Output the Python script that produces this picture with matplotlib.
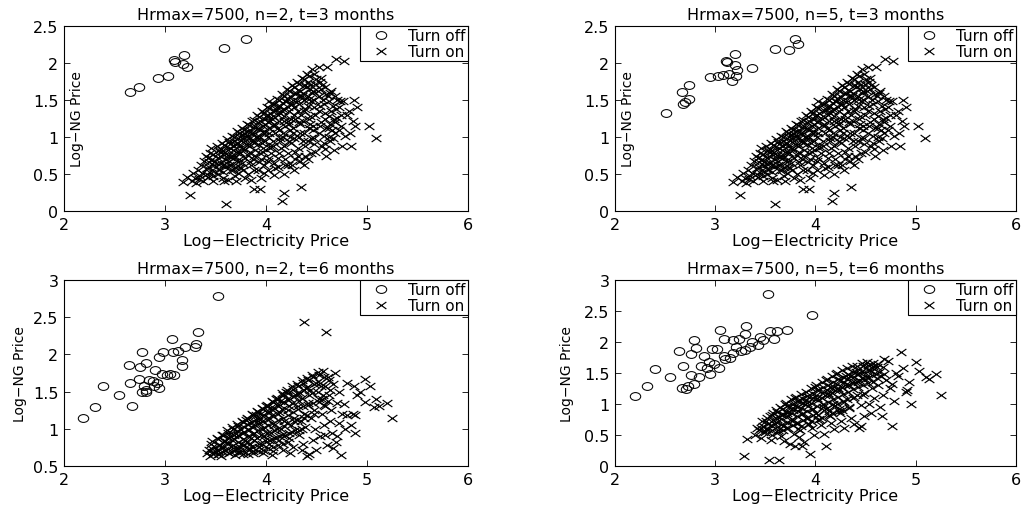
import numpy as np
import matplotlib
matplotlib.use('Agg')
import matplotlib.pyplot as plt
from matplotlib.path import Path
from matplotlib.transforms import Affine2D
from matplotlib.ticker import FormatStrFormatter, MultipleLocator

plt.rcParams['font.family'] = ['DejaVu Sans']

# ---- data (log-electricity price, log-NG price) ----

# turn-off points, n=2, t=3 months
off_n2_t3 = [(2.65, 1.61), (2.74, 1.68), (2.93, 1.80), (3.03, 1.83), (3.09, 2.04),
             (3.10, 2.01), (3.19, 2.11), (3.18, 1.99), (3.22, 1.95), (3.58, 2.20),
             (3.80, 2.32)]

# turn-off points, n=5, t=3 months
off_n5_t3 = [(2.51, 1.32), (2.67, 1.61), (2.74, 1.70), (2.68, 1.44), (2.70, 1.47),
             (2.74, 1.51), (2.95, 1.81), (3.03, 1.83), (3.08, 1.84), (3.11, 2.03),
             (3.12, 2.01), (3.14, 1.85), (3.17, 1.76), (3.20, 2.12), (3.20, 1.97),
             (3.22, 1.90), (3.21, 1.83), (3.37, 1.93), (3.60, 2.19), (3.74, 2.17),
             (3.80, 2.32), (3.83, 2.26)]

# turn-on points, t=3 months (same cloud in both upper panels)
on_t3 = [(3.18, 0.39), (3.22, 0.46), (3.25, 0.22), (3.27, 0.41), (3.28, 0.52), (3.30, 0.44),
         (3.31, 0.38), (3.33, 0.55), (3.35, 0.47), (3.36, 0.62), (3.38, 0.40), (3.39, 0.68),
         (3.37, 0.52), (3.34, 0.43), (3.41, 0.74), (3.42, 0.58), (3.43, 0.46), (3.44, 0.66),
         (3.45, 0.78), (3.46, 0.52), (3.47, 0.70), (3.48, 0.41), (3.49, 0.62), (3.46, 0.85),
         (3.51, 0.88), (3.52, 0.72), (3.53, 0.55), (3.54, 0.80), (3.55, 0.65), (3.56, 0.92),
         (3.57, 0.45), (3.58, 0.76), (3.59, 0.60), (3.55, 0.84), (3.52, 0.50), (3.60, 0.09),
         (3.61, 0.97), (3.62, 0.82), (3.63, 0.68), (3.64, 0.90), (3.65, 0.55), (3.66, 1.01),
         (3.67, 0.75), (3.68, 0.88), (3.69, 0.47), (3.65, 0.62), (3.62, 0.42), (3.68, 0.95),
         (3.70, 0.80), (3.71, 1.08), (3.72, 0.92), (3.73, 0.70), (3.74, 1.00), (3.75, 0.58),
         (3.76, 1.12), (3.77, 0.85), (3.78, 0.98), (3.79, 0.45), (3.74, 0.78), (3.76, 0.65),
         (3.78, 1.05), (3.72, 0.52), (3.80, 0.90), (3.81, 1.18), (3.82, 1.02), (3.83, 0.88),
         (3.84, 1.10), (3.85, 0.62), (3.86, 1.22), (3.87, 0.95), (3.88, 0.75), (3.89, 1.15),
         (3.82, 0.50), (3.84, 0.80), (3.86, 1.05), (3.88, 0.30), (3.85, 0.42), (3.90, 1.00),
         (3.91, 1.30), (3.92, 1.12), (3.93, 0.98), (3.94, 1.22), (3.95, 0.70), (3.96, 1.35),
         (3.97, 0.85), (3.98, 1.05), (3.99, 1.18), (3.92, 0.55), (3.94, 0.30), (3.95, 0.45),
         (3.96, 0.92), (3.98, 0.62), (4.00, 1.28), (4.01, 1.40), (4.02, 1.20), (4.03, 1.05),
         (4.04, 1.32), (4.05, 0.78), (4.06, 1.45), (4.07, 0.95), (4.08, 1.15), (4.09, 0.58),
         (4.02, 0.68), (4.04, 0.88), (4.06, 1.25), (4.08, 0.48), (4.10, 1.38), (4.03, 1.48),
         (4.11, 1.52), (4.12, 1.30), (4.13, 1.10), (4.14, 1.42), (4.15, 0.85), (4.16, 1.58),
         (4.17, 1.00), (4.18, 1.22), (4.19, 0.62), (4.12, 0.72), (4.14, 0.95), (4.16, 1.35),
         (4.18, 0.50), (4.16, 0.13), (4.18, 0.24), (4.20, 1.48), (4.21, 1.65), (4.22, 1.40),
         (4.23, 1.18), (4.24, 1.55), (4.25, 0.92), (4.26, 1.70), (4.27, 1.05), (4.28, 1.30),
         (4.29, 0.70), (4.22, 0.78), (4.24, 1.00), (4.26, 1.45), (4.28, 0.55), (4.30, 1.60),
         (4.25, 1.25), (4.31, 1.75), (4.32, 1.48), (4.33, 1.20), (4.34, 1.62), (4.35, 0.32),
         (4.36, 1.80), (4.37, 0.95), (4.38, 1.35), (4.39, 0.75), (4.32, 0.85), (4.34, 1.05),
         (4.36, 1.55), (4.38, 0.62), (4.40, 1.68), (4.35, 1.30), (4.41, 1.85), (4.42, 1.55),
         (4.43, 1.25), (4.44, 1.70), (4.45, 0.98), (4.46, 1.92), (4.47, 1.10), (4.48, 1.40),
         (4.49, 0.80), (4.42, 0.70), (4.44, 1.18), (4.46, 1.60), (4.48, 0.90), (4.50, 1.78),
         (4.45, 1.48), (4.51, 1.62), (4.52, 1.35), (4.53, 1.15), (4.54, 1.80), (4.55, 0.88),
         (4.56, 1.50), (4.57, 1.02), (4.58, 1.25), (4.59, 0.74), (4.55, 1.70), (4.60, 1.95),
         (4.52, 1.95), (4.61, 1.55), (4.62, 1.28), (4.63, 0.95), (4.64, 1.62), (4.65, 1.10),
         (4.66, 1.42), (4.67, 0.82), (4.68, 1.20), (4.69, 2.05), (4.70, 1.50), (4.72, 1.40),
         (4.74, 1.15), (4.75, 0.88), (4.76, 1.48), (4.77, 2.03), (4.78, 1.02), (4.80, 1.30),
         (4.82, 1.35), (4.84, 0.88), (4.86, 1.22), (4.87, 1.50), (4.88, 1.15), (4.90, 1.40),
         (5.02, 1.15), (5.09, 0.99), (4.34, 0.68), (4.45, 0.78), (4.58, 0.84), (4.66, 0.98),
         (4.26, 0.62), (4.70, 1.26), (4.83, 1.05), (4.62, 1.12), (3.70, 0.40), (3.58, 0.40)]

# the dark band just under the upper edge of the t=3 cloud
on_t3_core = [(3.43, 0.71), (3.44, 0.60), (3.42, 0.50), (3.48, 0.77), (3.49, 0.66), (3.47, 0.56),
              (3.48, 0.47), (3.53, 0.82), (3.54, 0.74), (3.52, 0.63), (3.53, 0.57), (3.58, 0.89),
              (3.57, 0.81), (3.59, 0.70), (3.58, 0.64), (3.57, 0.53), (3.63, 0.93), (3.64, 0.85),
              (3.62, 0.76), (3.63, 0.62), (3.64, 0.73), (3.68, 1.00), (3.69, 0.91), (3.67, 0.82),
              (3.68, 0.71), (3.69, 0.60), (3.67, 0.55), (3.73, 1.06), (3.72, 0.98), (3.74, 0.88),
              (3.73, 0.80), (3.72, 0.66), (3.74, 0.60), (3.78, 1.10), (3.79, 1.02), (3.77, 0.93),
              (3.78, 0.82), (3.79, 0.72), (3.77, 0.55), (3.83, 1.16), (3.82, 1.08), (3.84, 0.98),
              (3.83, 0.90), (3.82, 0.76), (3.84, 0.66), (3.88, 1.23), (3.89, 1.12), (3.87, 1.04),
              (3.88, 0.92), (3.89, 0.82), (3.87, 0.70), (3.88, 0.55), (3.93, 1.27), (3.92, 1.20),
              (3.94, 1.10), (3.93, 1.02), (3.92, 0.90), (3.94, 0.78), (3.93, 0.66), (3.98, 1.33),
              (3.99, 1.25), (3.97, 1.15), (3.98, 1.08), (3.99, 0.95), (3.97, 0.80), (3.98, 0.52),
              (4.03, 1.39), (4.02, 1.30), (4.04, 1.22), (4.03, 1.12), (4.02, 1.00), (4.04, 0.85),
              (4.03, 0.72), (4.02, 0.55), (4.08, 1.45), (4.09, 1.35), (4.07, 1.28), (4.08, 1.18),
              (4.09, 1.05), (4.07, 0.88), (4.08, 0.65), (4.13, 1.50), (4.12, 1.42), (4.14, 1.33),
              (4.13, 1.22), (4.12, 1.12), (4.14, 0.98), (4.13, 0.78), (4.12, 0.60), (4.18, 1.56),
              (4.19, 1.48), (4.17, 1.38), (4.18, 1.28), (4.19, 1.15), (4.17, 1.05), (4.18, 0.88),
              (4.19, 0.70), (4.23, 1.62), (4.22, 1.52), (4.24, 1.44), (4.23, 1.35), (4.22, 1.22),
              (4.24, 1.10), (4.23, 0.95), (4.22, 0.62), (4.28, 1.67), (4.29, 1.58), (4.27, 1.50),
              (4.28, 1.40), (4.29, 1.25), (4.27, 1.12), (4.28, 0.98), (4.29, 0.80), (4.33, 1.72),
              (4.32, 1.64), (4.34, 1.55), (4.33, 1.45), (4.32, 1.35), (4.34, 1.18), (4.33, 1.00),
              (4.32, 0.75), (4.38, 1.78), (4.39, 1.70), (4.37, 1.60), (4.38, 1.50), (4.39, 1.38),
              (4.37, 1.22), (4.38, 1.05), (4.39, 0.88), (4.43, 1.82), (4.42, 1.74), (4.44, 1.65),
              (4.43, 1.52), (4.42, 1.42), (4.44, 1.28), (4.43, 1.12), (4.42, 0.95), (4.48, 1.85),
              (4.49, 1.72), (4.47, 1.62), (4.48, 1.50), (4.49, 1.30), (4.47, 1.15), (4.48, 0.98),
              (4.53, 1.75), (4.54, 1.65), (4.52, 1.55), (4.53, 1.42), (4.54, 1.20), (4.52, 1.05),
              (4.58, 1.68), (4.59, 1.58), (4.57, 1.45), (4.58, 1.32), (4.59, 1.12), (4.57, 0.92),
              (4.63, 1.60), (4.62, 1.48), (4.64, 1.35), (4.63, 1.18), (4.62, 1.00), (4.68, 1.55),
              (4.69, 1.38), (4.67, 1.25), (4.68, 1.05), (4.73, 1.48), (4.74, 1.30), (4.72, 1.10)]

# turn-off points, n=2, t=6 months
off_n2_t6 = [(2.19, 1.14), (2.31, 1.29), (2.39, 1.57), (2.54, 1.45), (2.67, 1.31),
             (2.65, 1.61), (2.64, 1.86), (2.77, 2.03), (2.75, 1.83), (2.81, 1.89),
             (2.74, 1.67), (2.79, 1.58), (2.77, 1.49), (2.81, 1.49), (2.84, 1.65),
             (2.90, 1.79), (2.94, 1.96), (2.94, 1.55), (2.92, 1.61), (2.97, 1.74),
             (3.02, 1.72), (3.05, 1.73), (3.09, 1.72), (2.98, 2.03), (3.07, 2.21),
             (3.08, 2.03), (3.13, 2.05), (3.17, 1.92), (3.17, 1.85), (3.20, 2.10),
             (3.30, 2.10), (3.31, 2.14), (3.33, 2.30), (3.52, 2.78), (2.88, 1.64),
             (2.89, 1.57), (2.81, 1.52)]

# turn-on points, n=2, t=6 months
on_n2_t6 = [(3.42, 0.68), (3.44, 0.72), (3.46, 0.80), (3.48, 0.66), (3.50, 0.75), (3.45, 0.63),
            (3.51, 0.88), (3.52, 0.70), (3.54, 0.78), (3.55, 0.64), (3.56, 0.92), (3.58, 0.72),
            (3.59, 0.84), (3.53, 0.66), (3.61, 0.98), (3.62, 0.80), (3.63, 0.68), (3.64, 0.90),
            (3.66, 1.02), (3.67, 0.74), (3.68, 0.86), (3.69, 0.65), (3.65, 0.95), (3.71, 1.06),
            (3.72, 0.92), (3.73, 0.70), (3.74, 1.00), (3.75, 0.80), (3.76, 1.10), (3.77, 0.66),
            (3.78, 0.96), (3.79, 0.85), (3.74, 0.75), (3.80, 1.12), (3.81, 1.15), (3.82, 1.00),
            (3.83, 0.72), (3.84, 1.08), (3.85, 0.88), (3.86, 1.20), (3.87, 0.67), (3.88, 0.95),
            (3.89, 1.05), (3.84, 0.80), (3.90, 1.18), (3.91, 1.24), (3.92, 1.10), (3.93, 0.76),
            (3.94, 1.15), (3.95, 0.92), (3.96, 1.28), (3.97, 0.68), (3.98, 1.02), (3.99, 0.85),
            (3.94, 1.20), (4.00, 1.30), (4.01, 1.32), (4.02, 1.12), (4.03, 0.80), (4.04, 1.22),
            (4.05, 0.95), (4.06, 1.38), (4.07, 0.70), (4.08, 1.05), (4.09, 0.88), (4.04, 1.28),
            (4.10, 1.40), (4.06, 0.65), (4.11, 1.42), (4.12, 1.20), (4.13, 0.85), (4.14, 1.32),
            (4.15, 1.00), (4.16, 1.48), (4.17, 0.72), (4.18, 1.10), (4.19, 0.92), (4.14, 1.38),
            (4.20, 1.50), (4.21, 1.52), (4.22, 1.25), (4.23, 0.88), (4.24, 1.40), (4.25, 1.05),
            (4.26, 1.58), (4.27, 0.75), (4.28, 1.15), (4.29, 0.98), (4.24, 0.68), (4.30, 1.45),
            (4.31, 1.60), (4.32, 1.30), (4.33, 0.92), (4.34, 1.48), (4.35, 1.10), (4.36, 1.65),
            (4.37, 0.80), (4.38, 1.20), (4.39, 1.02), (4.38, 2.44), (4.40, 1.55), (4.41, 1.68),
            (4.42, 1.35), (4.43, 0.66), (4.44, 1.52), (4.45, 1.15), (4.46, 1.72), (4.47, 0.85),
            (4.48, 1.25), (4.49, 1.00), (4.41, 0.64), (4.50, 1.62), (4.51, 1.76), (4.52, 1.40),
            (4.53, 0.90), (4.54, 1.58), (4.55, 1.20), (4.56, 1.78), (4.57, 1.05), (4.58, 1.30),
            (4.59, 2.30), (4.60, 0.78), (4.61, 1.70), (4.62, 1.45), (4.63, 1.10), (4.64, 1.25),
            (4.65, 0.95), (4.66, 1.60), (4.68, 1.75), (4.69, 0.82), (4.70, 1.35), (4.72, 1.50),
            (4.74, 0.65), (4.75, 1.20), (4.77, 1.33), (4.78, 1.00), (4.80, 1.62), (4.86, 1.20),
            (4.87, 1.57), (4.88, 1.19), (4.90, 1.45), (4.93, 1.50), (4.98, 1.67), (4.98, 1.36),
            (5.03, 1.58), (5.07, 1.29), (5.09, 1.40), (5.12, 1.31), (5.20, 1.35), (5.25, 1.15),
            (4.88, 0.95), (4.84, 1.05), (4.50, 0.72), (4.58, 0.92), (4.66, 0.74), (4.72, 1.08),
            (4.55, 1.40), (4.80, 1.18), (4.36, 0.72), (4.70, 0.90)]

on_n2_t6_core = [(3.47, 0.84), (3.46, 0.74), (3.48, 0.69), (3.52, 0.86), (3.53, 0.78), (3.51, 0.71),
                 (3.52, 0.66), (3.57, 0.92), (3.58, 0.83), (3.56, 0.76), (3.57, 0.69), (3.62, 0.95),
                 (3.63, 0.88), (3.61, 0.82), (3.62, 0.73), (3.63, 0.67), (3.67, 1.00), (3.68, 0.92),
                 (3.66, 0.85), (3.67, 0.78), (3.68, 0.70), (3.72, 1.04), (3.71, 0.97), (3.73, 0.90),
                 (3.72, 0.82), (3.71, 0.74), (3.73, 0.67), (3.77, 1.09), (3.78, 1.02), (3.76, 0.94),
                 (3.77, 0.86), (3.78, 0.78), (3.76, 0.70), (3.82, 1.13), (3.81, 1.06), (3.83, 0.98),
                 (3.82, 0.90), (3.81, 0.82), (3.83, 0.74), (3.82, 0.66), (3.87, 1.18), (3.88, 1.10),
                 (3.86, 1.02), (3.87, 0.93), (3.88, 0.85), (3.86, 0.76), (3.87, 0.70), (3.92, 1.22),
                 (3.91, 1.14), (3.93, 1.06), (3.92, 0.98), (3.91, 0.88), (3.93, 0.80), (3.92, 0.70),
                 (3.97, 1.27), (3.98, 1.18), (3.96, 1.10), (3.97, 1.00), (3.98, 0.90), (3.96, 0.80),
                 (3.97, 0.72), (4.02, 1.31), (4.01, 1.22), (4.03, 1.14), (4.02, 1.05), (4.01, 0.95),
                 (4.03, 0.85), (4.02, 0.74), (4.07, 1.36), (4.08, 1.28), (4.06, 1.18), (4.07, 1.08),
                 (4.08, 0.98), (4.06, 0.86), (4.07, 0.76), (4.12, 1.40), (4.11, 1.32), (4.13, 1.22),
                 (4.12, 1.12), (4.11, 1.00), (4.13, 0.90), (4.12, 0.78), (4.17, 1.45), (4.18, 1.36),
                 (4.16, 1.26), (4.17, 1.15), (4.18, 1.04), (4.16, 0.92), (4.17, 0.80), (4.22, 1.48),
                 (4.21, 1.40), (4.23, 1.30), (4.22, 1.18), (4.21, 1.08), (4.23, 0.95), (4.22, 0.82),
                 (4.27, 1.53), (4.28, 1.44), (4.26, 1.34), (4.27, 1.22), (4.28, 1.10), (4.26, 0.96),
                 (4.32, 1.57), (4.31, 1.48), (4.33, 1.38), (4.32, 1.26), (4.31, 1.12), (4.33, 0.98),
                 (4.37, 1.62), (4.38, 1.52), (4.36, 1.42), (4.37, 1.30), (4.38, 1.15), (4.36, 1.00),
                 (4.42, 1.66), (4.41, 1.56), (4.43, 1.45), (4.42, 1.32), (4.41, 1.18), (4.47, 1.70),
                 (4.48, 1.60), (4.46, 1.48), (4.47, 1.35), (4.48, 1.20), (4.52, 1.72), (4.53, 1.62),
                 (4.51, 1.50), (4.52, 1.36), (4.57, 1.70), (4.58, 1.58), (4.56, 1.45), (4.57, 1.32),
                 (4.62, 1.65), (4.63, 1.52), (4.61, 1.38)]

# turn-off points, n=5, t=6 months
off_n5_t6 = [(2.20, 1.13), (2.32, 1.29), (2.40, 1.56), (2.55, 1.44), (2.64, 1.86),
             (2.68, 1.61), (2.79, 2.04), (2.81, 1.90), (2.76, 1.81), (2.71, 1.24),
             (2.67, 1.25), (2.73, 1.29), (2.79, 1.32), (2.76, 1.46), (2.84, 1.43),
             (2.86, 1.62), (2.89, 1.78), (2.94, 1.67), (2.95, 1.49), (2.92, 1.58),
             (2.97, 1.89), (2.99, 1.65), (3.05, 2.20), (3.09, 2.05), (3.10, 1.72),
             (3.04, 1.58), (3.15, 1.74), (3.18, 2.03), (3.18, 1.82), (3.24, 2.05),
             (3.26, 1.85), (3.31, 2.26), (3.30, 2.13), (3.30, 1.87), (3.35, 1.92),
             (3.37, 2.00), (3.43, 1.95), (3.48, 2.03), (3.45, 2.08), (3.53, 2.78),
             (3.55, 2.18), (3.59, 2.05), (3.62, 2.17), (3.72, 2.20), (3.97, 2.43),
             (3.02, 1.89), (3.21, 1.92), (3.09, 1.77)]

# turn-on points, n=5, t=6 months
on_n5_t6 = [(3.29, 0.16), (3.32, 0.44), (3.40, 0.50), (3.44, 0.58), (3.46, 0.45), (3.48, 0.65),
            (3.50, 0.55), (3.42, 0.62), (3.51, 0.72), (3.53, 0.60), (3.54, 0.10), (3.55, 0.80),
            (3.57, 0.50), (3.58, 0.86), (3.60, 0.68), (3.56, 0.42), (3.61, 0.90), (3.62, 0.75),
            (3.63, 0.58), (3.64, 0.09), (3.65, 0.95), (3.66, 0.48), (3.67, 0.82), (3.68, 0.65),
            (3.70, 1.00), (3.69, 0.40), (3.71, 1.02), (3.72, 0.85), (3.73, 0.62), (3.74, 0.95),
            (3.75, 0.36), (3.76, 1.08), (3.77, 0.72), (3.78, 0.90), (3.79, 0.52), (3.80, 0.33),
            (3.80, 1.10), (3.81, 1.12), (3.82, 0.95), (3.83, 0.70), (3.84, 1.05), (3.85, 0.58),
            (3.86, 1.16), (3.87, 0.33), (3.88, 0.85), (3.89, 0.38), (3.84, 0.46), (3.90, 1.00),
            (3.91, 1.20), (3.92, 1.02), (3.93, 0.78), (3.94, 1.12), (3.95, 0.19), (3.96, 1.25),
            (3.97, 0.62), (3.98, 0.92), (3.99, 0.50), (3.94, 0.68), (4.00, 1.28), (4.01, 1.30),
            (4.02, 1.10), (4.03, 0.82), (4.04, 1.22), (4.05, 0.66), (4.06, 1.35), (4.07, 0.95),
            (4.08, 0.52), (4.09, 1.15), (4.10, 0.33), (4.04, 0.75), (4.10, 1.38), (4.11, 1.40),
            (4.12, 1.18), (4.13, 0.88), (4.14, 1.28), (4.15, 0.70), (4.16, 1.45), (4.17, 1.00),
            (4.18, 0.60), (4.19, 1.22), (4.14, 0.80), (4.20, 1.48), (4.21, 1.50), (4.22, 1.25),
            (4.23, 0.92), (4.24, 1.38), (4.25, 0.72), (4.26, 1.55), (4.27, 1.05), (4.28, 0.62),
            (4.29, 1.30), (4.24, 0.85), (4.30, 1.45), (4.31, 1.58), (4.32, 1.30), (4.33, 0.95),
            (4.34, 1.45), (4.35, 0.78), (4.36, 1.62), (4.37, 1.10), (4.38, 0.68), (4.39, 1.35),
            (4.40, 1.52), (4.41, 1.62), (4.42, 1.35), (4.43, 0.62), (4.44, 1.50), (4.45, 0.98),
            (4.46, 1.66), (4.47, 1.15), (4.48, 0.80), (4.49, 1.40), (4.45, 0.65), (4.50, 1.58),
            (4.51, 1.68), (4.52, 1.42), (4.53, 1.00), (4.54, 1.55), (4.55, 0.85), (4.56, 1.25),
            (4.57, 1.62), (4.58, 1.10), (4.60, 1.48), (4.61, 1.60), (4.62, 1.30), (4.64, 0.95),
            (4.65, 1.45), (4.67, 1.15), (4.68, 1.73), (4.70, 1.38), (4.66, 0.80), (4.72, 1.70),
            (4.74, 1.25), (4.76, 1.32), (4.76, 0.64), (4.78, 1.05), (4.80, 1.50), (4.82, 1.45),
            (4.85, 1.84), (4.87, 1.58), (4.90, 1.19), (4.91, 1.22), (4.93, 1.35), (5.00, 1.67),
            (5.03, 1.54), (5.10, 1.43), (5.13, 1.40), (5.20, 1.48), (5.25, 1.15), (4.95, 1.00)]

on_n5_t6_core = [(3.47, 0.72), (3.46, 0.62), (3.48, 0.55), (3.52, 0.77), (3.53, 0.68), (3.51, 0.60),
                 (3.57, 0.83), (3.58, 0.74), (3.56, 0.66), (3.57, 0.58), (3.62, 0.87), (3.63, 0.80),
                 (3.61, 0.71), (3.62, 0.63), (3.63, 0.55), (3.67, 0.92), (3.68, 0.84), (3.66, 0.76),
                 (3.67, 0.68), (3.68, 0.58), (3.72, 0.96), (3.71, 0.88), (3.73, 0.80), (3.72, 0.71),
                 (3.71, 0.62), (3.77, 1.00), (3.78, 0.93), (3.76, 0.85), (3.77, 0.76), (3.78, 0.66),
                 (3.82, 1.05), (3.81, 0.98), (3.83, 0.89), (3.82, 0.80), (3.81, 0.70), (3.83, 0.60),
                 (3.87, 1.09), (3.88, 1.01), (3.86, 0.93), (3.87, 0.84), (3.88, 0.74), (3.86, 0.64),
                 (3.92, 1.13), (3.91, 1.06), (3.93, 0.97), (3.92, 0.88), (3.91, 0.78), (3.93, 0.68),
                 (3.97, 1.18), (3.98, 1.10), (3.96, 1.02), (3.97, 0.92), (3.98, 0.82), (3.96, 0.72),
                 (4.02, 1.22), (4.01, 1.14), (4.03, 1.06), (4.02, 0.96), (4.01, 0.86), (4.03, 0.74),
                 (4.07, 1.27), (4.08, 1.19), (4.06, 1.10), (4.07, 1.00), (4.08, 0.90), (4.06, 0.78),
                 (4.12, 1.31), (4.11, 1.23), (4.13, 1.14), (4.12, 1.04), (4.11, 0.93), (4.13, 0.82),
                 (4.17, 1.35), (4.18, 1.27), (4.16, 1.18), (4.17, 1.08), (4.18, 0.97), (4.16, 0.85),
                 (4.22, 1.40), (4.21, 1.32), (4.23, 1.22), (4.22, 1.12), (4.21, 1.00), (4.23, 0.88),
                 (4.27, 1.44), (4.28, 1.36), (4.26, 1.27), (4.27, 1.16), (4.28, 1.04), (4.26, 0.90),
                 (4.32, 1.48), (4.31, 1.40), (4.33, 1.31), (4.32, 1.20), (4.31, 1.08), (4.33, 0.94),
                 (4.37, 1.52), (4.38, 1.44), (4.36, 1.35), (4.37, 1.24), (4.38, 1.12), (4.42, 1.57),
                 (4.41, 1.48), (4.43, 1.38), (4.42, 1.28), (4.41, 1.15), (4.47, 1.61), (4.48, 1.52),
                 (4.46, 1.42), (4.47, 1.30), (4.48, 1.18), (4.52, 1.63), (4.53, 1.55), (4.51, 1.45),
                 (4.52, 1.34), (4.57, 1.66), (4.58, 1.56), (4.56, 1.46), (4.57, 1.35), (4.62, 1.64),
                 (4.63, 1.52), (4.61, 1.42), (4.67, 1.60), (4.68, 1.48)]

titles = ['Hrmax=7500, n=2, t=3 months', 'Hrmax=7500, n=5, t=3 months',
          'Hrmax=7500, n=2, t=6 months', 'Hrmax=7500, n=5, t=6 months']
ylims = [(0, 2.5), (0, 2.5), (0.5, 3), (0, 3)]
x_ticks = [2, 3, 4, 5, 6]

# the picture is stretched sideways, so markers are drawn a bit wider than tall
circle_mark = Path.unit_circle().transformed(Affine2D().scale(1.0, 0.75))
cross_mark = Path([(-1, -0.72), (1, 0.72), (-1, 0.72), (1, -0.72)],
                  [Path.MOVETO, Path.LINETO, Path.MOVETO, Path.LINETO])


def draw_panel(ax, off_pts, on_pts, title, ylim, ylab_x):
    off = np.array(off_pts)
    on = np.array(on_pts)
    ax.plot(off[:, 0], off[:, 1], linestyle='none', marker=circle_mark, markersize=7.5,
            mfc='none', mec='k', mew=0.75, label='Turn off')
    ax.plot(on[:, 0], on[:, 1], linestyle='none', marker=cross_mark, markersize=7,
            mfc='none', mec='k', mew=0.85, label='Turn on')
    ax.set_xlim(2, 6)
    ax.set_ylim(*ylim)
    ax.set_xticks(x_ticks)
    ax.yaxis.set_major_locator(MultipleLocator(0.5))
    ax.yaxis.set_major_formatter(FormatStrFormatter('%g'))
    ax.tick_params(direction='in', top=True, right=True, length=4, width=0.6,
                   labelsize=11.5, pad=4)
    for s in ax.spines.values():
        s.set_linewidth(0.8)
    ax.set_title(title, fontsize=11.5, pad=5)
    ax.set_xlabel('Log\u2212Electricity Price', fontsize=11.5, labelpad=1)
    ax.set_ylabel('Log\u2212NG Price', fontsize=10,
                  family=['Liberation Sans Narrow', 'DejaVu Sans'])
    ax.yaxis.label.set_va('center')
    ax.yaxis.set_label_coords(ylab_x, 0.5)
    leg = ax.legend(loc='upper right', borderaxespad=0, fancybox=False, fontsize=11,
                    borderpad=0.15, labelspacing=0.05, handlelength=2.4,
                    handletextpad=0.6, framealpha=1)
    leg.get_frame().set_edgecolor('k')
    leg.get_frame().set_linewidth(0.8)


fig = plt.figure(figsize=(10.27, 5.06), dpi=100)
ax1 = fig.add_axes([0.0623, 0.581, 0.3934, 0.3656])
ax2 = fig.add_axes([0.5988, 0.581, 0.3905, 0.3656])
ax3 = fig.add_axes([0.0623, 0.0771, 0.3934, 0.3676])
ax4 = fig.add_axes([0.5988, 0.0771, 0.3905, 0.3676])

draw_panel(ax1, off_n2_t3, on_t3 + on_t3_core, titles[0], ylims[0], 0.032)
draw_panel(ax2, off_n5_t3, on_t3 + on_t3_core, titles[1], ylims[1], 0.032)
draw_panel(ax3, off_n2_t6, on_n2_t6 + on_n2_t6_core, titles[2], ylims[2], -0.109)
draw_panel(ax4, off_n5_t6, on_n5_t6 + on_n5_t6_core, titles[3], ylims[3], -0.12)

fig.savefig('out.png', dpi=100)
